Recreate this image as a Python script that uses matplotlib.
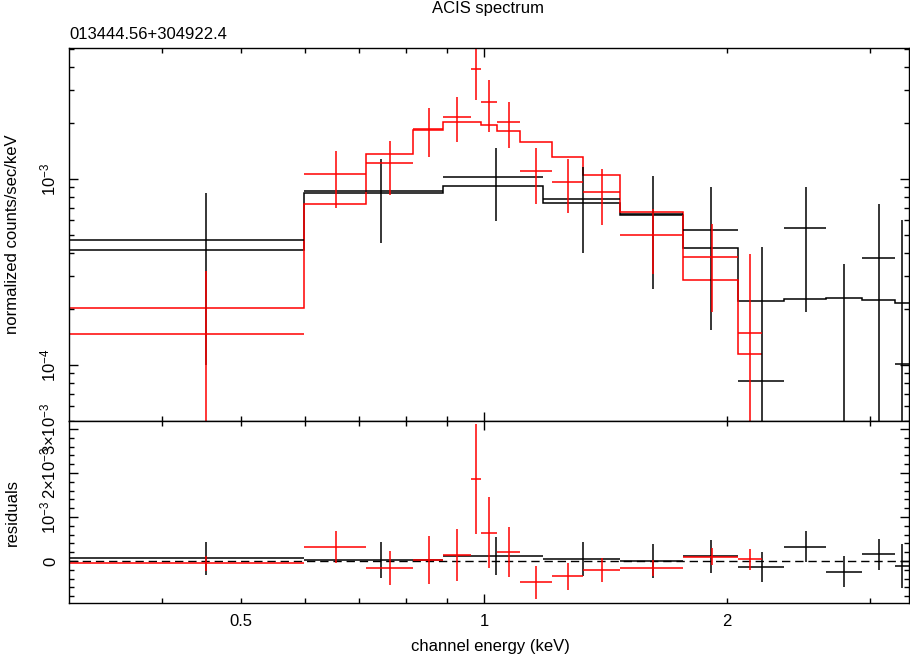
import numpy as np
import matplotlib
matplotlib.use('Agg')
import matplotlib.pyplot as plt
from matplotlib.ticker import FixedLocator, FixedFormatter, NullFormatter, LogLocator, MultipleLocator

plt.rcParams['font.family'] = ['Liberation Sans', 'DejaVu Sans']
plt.rcParams['mathtext.fontset'] = 'custom'
plt.rcParams['mathtext.rm'] = 'Liberation Sans'
plt.rcParams['mathtext.it'] = 'Liberation Sans:italic'
plt.rcParams['mathtext.bf'] = 'Liberation Sans:bold'

# data set 1 (black): bin edges (keV), counts/sec/keV, 1-sigma error, folded model
blk_edges = [0.3065, 0.599, 0.8905, 1.182, 1.473, 1.764, 2.060, 2.353, 2.648, 2.934, 3.227, 3.357]
blk_data = [4.72e-4, 8.62e-4, 1.029e-3, 7.81e-4, 6.45e-4, 5.32e-4, 8.24e-5, 5.47e-4, -1.2e-5, 3.78e-4, 1.01e-4]
blk_err = [3.72e-4, 4.1e-4, 4.33e-4, 3.8e-4, 3.9e-4, 3.77e-4, 3.5e-4, 3.55e-4, 3.6e-4, 3.53e-4, 5.0e-4]
blk_model = [4.14e-4, 8.38e-4, 9.13e-4, 7.40e-4, 6.40e-4, 4.27e-4, 2.21e-4, 2.255e-4, 2.30e-4, 2.23e-4, 2.16e-4]

# data set 2 (red)
red_edges = [0.3065, 0.599, 0.7145, 0.8176, 0.8905, 0.9623, 0.9929, 1.0368, 1.1096,
             1.2127, 1.327, 1.4733, 1.7644, 2.0603, 2.2063]
red_data = [1.46e-4, 1.06e-3, 1.21e-3, 1.86e-3, 2.16e-3, 3.89e-3, 2.59e-3, 2.02e-3,
            1.10e-3, 9.67e-4, 8.48e-4, 5.00e-4, 3.82e-4, 1.49e-4]
red_err = [1.72e-4, 3.6e-4, 3.9e-4, 5.5e-4, 5.9e-4, 1.25e-3, 8.1e-4, 5.6e-4,
           3.7e-4, 3.1e-4, 2.8e-4, 1.9e-4, 1.9e-4, 2.46e-4]
red_model = [2.03e-4, 7.36e-4, 1.368e-3, 1.84e-3, 2.03e-3, 2.017e-3, 1.951e-3, 1.818e-3,
             1.587e-3, 1.318e-3, 1.051e-3, 6.62e-4, 2.864e-4, 1.141e-4]

xtick_vals = [0.5, 1, 2]
xtick_labels = ['0.5', '1', '2']
ytop_vals = [1e-4, 1e-3]
ytop_labels = [r'$10^{-4}$', r'$10^{-3}$']
yres_vals = [0, 1e-3, 2e-3, 3e-3]
yres_labels = ['0', r'$10^{-3}$', r'$2{\times}10^{-3}$', r'$3{\times}10^{-3}$']

fs = 12
lw = 1.1

fig = plt.figure(figsize=(9.1, 6.57), dpi=100)
ax1 = fig.add_axes([69/910, 1-421/657, 840/910, 373/657])
ax2 = fig.add_axes([69/910, 1-603/657, 840/910, 182/657])


def draw_set(edges, data, err, model, color):
    e = np.array(edges)
    d = np.array(data)
    s = np.array(err)
    m = np.array(model)
    c = (e[:-1] + e[1:]) / 2
    xe = [c - e[:-1], e[1:] - c]
    ax1.errorbar(c, d, xerr=xe, yerr=s, fmt='none', ecolor=color, elinewidth=lw, capsize=0)
    ax1.stairs(m, e, baseline=None, color=color, lw=lw)
    ax2.errorbar(c, d - m, xerr=xe, yerr=s, fmt='none', ecolor=color, elinewidth=lw, capsize=0)


draw_set(blk_edges, blk_data, blk_err, blk_model, 'black')
draw_set(red_edges, red_data, red_err, red_model, '#ff0000')

ax2.axhline(0, color='black', lw=1.0, ls=(0, (6, 3.5)), zorder=0.5)

for ax in (ax1, ax2):
    ax.set_xscale('log')
    ax.set_xlim(blk_edges[0], blk_edges[-1])
    ax.xaxis.set_major_locator(FixedLocator([1.0]))
    ax.xaxis.set_minor_locator(FixedLocator([0.4, 0.5, 0.6, 0.7, 0.8, 0.9, 2.0, 3.0]))
    ax.xaxis.set_major_formatter(NullFormatter())
    ax.xaxis.set_minor_formatter(NullFormatter())
    ax.tick_params(which='both', direction='in', top=True, right=True, width=1.0,
                   labelsize=fs, pad=10)
    ax.tick_params(which='major', length=6.5)
    ax.tick_params(which='minor', length=3.3)
    ax.tick_params(axis='x', pad=8)
    for sp in ax.spines.values():
        sp.set_linewidth(1.0)

ax1.set_yscale('log')
ax1.set_ylim(5.0e-5, 5.05e-3)
ax1.yaxis.set_major_locator(FixedLocator(ytop_vals))
ax1.yaxis.set_major_formatter(FixedFormatter(ytop_labels))
ax1.yaxis.set_minor_locator(LogLocator(base=10, subs=np.arange(2, 10)))
ax1.yaxis.set_minor_formatter(NullFormatter())

ax2.set_ylim(-0.955e-3, 3.18e-3)
ax2.yaxis.set_major_locator(FixedLocator(yres_vals))
ax2.yaxis.set_major_formatter(FixedFormatter(yres_labels))
ax2.yaxis.set_minor_locator(MultipleLocator(2e-4))

# x labels at 0.5, 1, 2 (1 is the decade tick, 0.5 and 2 are minor ticks)
lab = dict(zip(xtick_vals, xtick_labels))
ax2.xaxis.set_major_formatter(FixedFormatter([lab[1]]))
ax2.xaxis.set_minor_formatter(FixedFormatter(['', lab[0.5], '', '', '', '', lab[2], '']))
ax2.tick_params(axis='x', which='minor', pad=8, labelsize=fs)

for ax in (ax1, ax2):
    for t in ax.get_yticklabels():
        t.set_rotation(90)
        t.set_rotation_mode('anchor')
        t.set_ha('center')
        t.set_va('baseline')

fig.text(488.5/910, 1-13.3/657, 'ACIS spectrum', ha='center', va='baseline', fontsize=fs)
fig.text(69/910, 1-39.3/657, '013444.56+304922.4', ha='left', va='baseline', fontsize=fs)
fig.text(490.5/910, 1-651.5/657, 'channel energy (keV)', ha='center', va='baseline', fontsize=fs)
fig.text(16.7/910, 1-234.5/657, 'normalized counts/sec/keV', rotation=90, rotation_mode='anchor',
         ha='center', va='baseline', fontsize=fs)
fig.text(16.7/910, 1-512/657, 'residuals', rotation=90, rotation_mode='anchor',
         ha='center', va='baseline', fontsize=fs)

fig.savefig('out.png', dpi=100)
